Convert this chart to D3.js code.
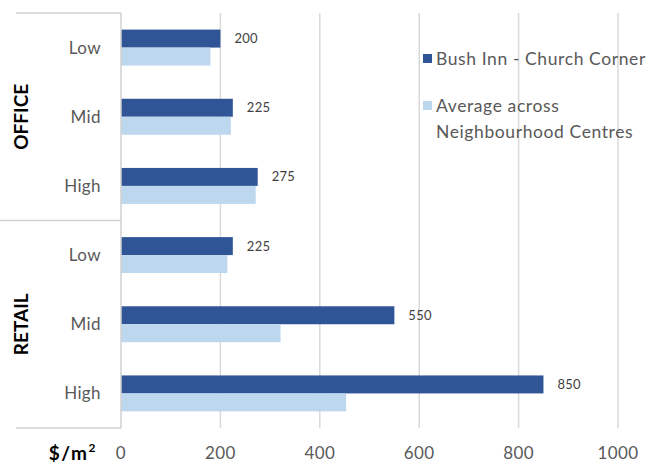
<!DOCTYPE html>
<html><head><meta charset="utf-8">
<script src="https://cdn.jsdelivr.net/npm/d3@7"></script>
<style>body{margin:0;background:#fff;}svg{display:block;font-family:Lato,"Open Sans",sans-serif;}</style>
</head><body>
<script>
const sectors = ["OFFICE", "RETAIL"];
const levels = ["Low", "Mid", "High"];
const seriesNames = ["Bush Inn - Church Corner", "Average across Neighbourhood Centres"];
const bushInn = [200, 225, 275, 225, 550, 850];
const average = [180, 221, 271, 214, 321, 453];
const xTicks = [0, 200, 400, 600, 800, 1000];
const colors = ["#2F5597", "#BDD7EE"];

const W = 648, H = 466;
const svg = d3.select("body").append("svg").attr("width", W).attr("height", H);

const rows = [];
sectors.forEach((s, si) => levels.forEach((l, li) => rows.push({key: s + "-" + l, sector: s, level: l, vals: [bushInn[si*3+li], average[si*3+li]]})));

const x = d3.scaleLinear().domain([0, 1000]).range([121, 618]);
const y = d3.scaleBand().domain(rows.map(r => r.key)).range([13, 428]).paddingInner(0.48).paddingOuter(0.24);
const ySub = d3.scaleBand().domain([0, 1]).range([0, y.bandwidth()]);

// gridlines
svg.append("g").selectAll("line").data(xTicks.slice(1)).join("line")
  .attr("x1", d => x(d)).attr("x2", d => x(d)).attr("y1", 13).attr("y2", 428)
  .attr("stroke", "#d9d9d9").attr("stroke-width", 1.5);

// bars
const g = svg.append("g").selectAll("g").data(rows).join("g")
  .attr("transform", d => `translate(0,${y(d.key)})`);
g.selectAll("rect").data(d => d.vals).join("rect")
  .attr("x", x(0)).attr("y", (d, i) => ySub(i)).attr("height", ySub.bandwidth())
  .attr("width", d => x(d) - x(0)).attr("fill", (d, i) => colors[i]);
g.append("text").attr("x", d => x(d.vals[0]) + 14).attr("y", ySub(0) + ySub.bandwidth()/2)
  .attr("dy", "0.35em").attr("font-size", 13).attr("letter-spacing", 0.3).attr("fill", "#404040").text(d => d.vals[0]);

// category axis line
svg.append("line").attr("x1", x(0)).attr("x2", x(0)).attr("y1", 13).attr("y2", 428)
  .attr("stroke", "#d0d0d0").attr("stroke-width", 1.5);

// separators between sector groups
const sepY = [13, (y(rows[2].key) + y(rows[3].key) + y.bandwidth()) / 2, 428];
svg.append("g").selectAll("line").data(sepY).join("line")
  .attr("x1", (d, i) => i === 1 ? 0 : 16).attr("x2", x(0)).attr("y1", d => d).attr("y2", d => d)
  .attr("stroke", "#d0d0d0").attr("stroke-width", 1.5);

// level labels
svg.append("g").selectAll("text").data(rows).join("text")
  .attr("x", 101).attr("y", d => y(d.key) + y.bandwidth()/2).attr("dy", "0.35em")
  .attr("text-anchor", "end").attr("font-size", 17).attr("letter-spacing", 0.4).attr("fill", "#595959").text(d => d.level);

// sector labels
sectors.forEach((s, si) => {
  const cy = (y(rows[si*3].key) + y(rows[si*3+2].key) + y.bandwidth()) / 2;
  svg.append("text").attr("transform", `translate(28,${cy}) rotate(-90)`)
    .attr("text-anchor", "middle").attr("font-size", 19).attr("font-weight", "bold")
    .attr("fill", "#000").text(s);
});

// x tick labels
svg.append("g").selectAll("text").data(xTicks).join("text")
  .attr("x", d => x(d)).attr("y", 453).attr("dy", "0.35em").attr("text-anchor", "middle")
  .attr("font-size", 17).attr("letter-spacing", 0.4).attr("fill", "#595959").text(d => d);
const unit = svg.append("text").attr("x", 97).attr("y", 453).attr("dy", "0.35em").attr("text-anchor", "end")
  .attr("font-size", 19).attr("font-weight", "bold").attr("letter-spacing", 1.5).attr("fill", "#000");
unit.append("tspan").text("$/m");
unit.append("tspan").attr("font-size", 12).attr("dy", "-0.6em").text("2");

// legend
const leg = svg.append("g").attr("font-size", 17.5).attr("letter-spacing", 0.6).attr("fill", "#595959");
leg.append("rect").attr("x", 423).attr("y", 54).attr("width", 9).attr("height", 9).attr("fill", colors[0]);
leg.append("text").attr("x", 436).attr("y", 59).attr("dy", "0.35em").text(seriesNames[0]);
leg.append("rect").attr("x", 423).attr("y", 101).attr("width", 9).attr("height", 9).attr("fill", colors[1]);
const t2 = leg.append("text").attr("x", 436).attr("y", 106);
t2.append("tspan").attr("x", 436).attr("dy", "0.35em").text("Average across");
t2.append("tspan").attr("x", 436).attr("dy", "1.45em").text("Neighbourhood Centres");
</script>
</body></html>
